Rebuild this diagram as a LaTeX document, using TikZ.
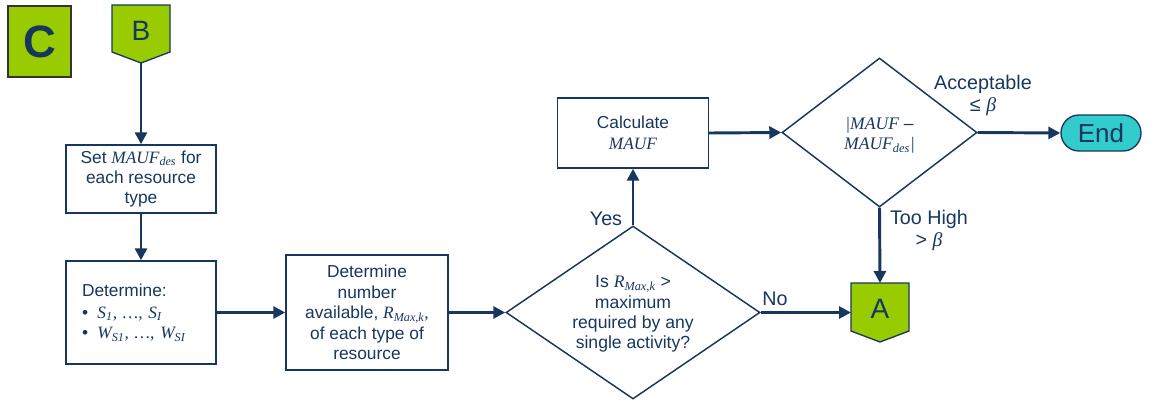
\documentclass[tikz,border=0pt]{standalone}
\usepackage{fontspec}
\setmainfont{Liberation Sans}
\newfontfamily\tms{Liberation Serif}
\usetikzlibrary{arrows.meta,shapes.geometric}
\definecolor{navy}{HTML}{17375E}
\definecolor{lime}{HTML}{99CC00}
\definecolor{endfill}{HTML}{33CCCC}
\newcommand{\vi}[1]{{\tms\itshape #1}}
\newcommand{\sbs}[1]{\textsubscript{\vi{#1}}}
\tikzset{
  box/.style={draw=navy, line width=1.1pt, text=navy, align=center, inner sep=0pt,
    font=\fontsize{13}{15.3}\selectfont},
  dia/.style={draw=navy, line width=1.1pt, shape=diamond, inner sep=0pt},
  dtext/.style={text=navy, align=center, font=\fontsize{13.2}{15.3}\selectfont},
  conn/.style={draw=navy, line width=2.2pt, -{Triangle[length=9pt,width=9pt]}},
  lbl/.style={text=navy, align=center, font=\fontsize{14.8}{16.5}\selectfont},
  greenshape/.style={fill=lime, draw=navy, line width=1pt},
  lettr/.style={text=navy, font=\fontsize{21}{21}\selectfont}
}
\begin{document}
\begin{tikzpicture}[x=0.75pt,y=-0.75pt]
\useasboundingbox (0,0) rectangle (1153,400);
% C square
\node[fill=lime, draw=black!80, line width=1pt, minimum width=47.25pt, minimum height=53.25pt,
  text=navy, font=\fontsize{34}{34}\selectfont\bfseries] (C) at (39.5,41.5) {C};
% B off-page connector
\path[greenshape] (112,5) -- (170,5) -- (170,52) -- (141,63) -- (112,52) -- cycle;
\node[lettr] (B) at (141,31) {B};
\coordinate (Btip) at (141,63);
% boxes
\node[box, minimum width=112.5pt, minimum height=51pt] (set) at (141,179)
  {Set \vi{MAUF}\sbs{des} for\\each resource\\type};
\node[box, minimum width=112.5pt, minimum height=77.25pt, align=left, text width=88.5pt] (det) at (141,312.5)
  {Determine:\\[1pt]
   •\hspace{7pt}\vi{S}\sbs{1}\vi{, \dots, S}\sbs{I}\\
   •\hspace{7pt}\vi{W}\sbs{S1}\vi{, \dots, W}\sbs{SI}};
\node[box, minimum width=121.5pt, minimum height=86.25pt] (num) at (367,312.5)
  {Determine\\number\\available, \vi{R}\sbs{Max,k}\vi{,}\\of each type of\\resource};
\node[box, minimum width=113.25pt, minimum height=52.5pt] (calc) at (633,133)
  {Calculate\\\vi{MAUF}};
% diamonds
\node[dia, minimum width=190.5pt, minimum height=129.75pt] (d1) at (633,312.5) {};
\node[dtext] (d1t) at (633,314) {Is \vi{R}\sbs{Max,k} >\\maximum\\required by any\\single activity?};
\node[dia, minimum width=146.25pt, minimum height=111.75pt] (d2) at (879.5,132.5) {};
\node[dtext] (d2t) at (879.5,135) {\vi{|MAUF} –\\\vi{MAUF}\sbs{des}\vi{|}};
% End
\node[draw=navy, line width=1pt, fill=endfill, rounded corners=13.5pt, minimum width=60pt,
  minimum height=27pt, text=navy, font=\fontsize{19.5}{19.5}\selectfont] (end) at (1101,133) {End};
% A off-page connector
\path[greenshape] (851,283) -- (909,283) -- (909,331) -- (880,342) -- (851,331) -- cycle;
\node[lettr] (A) at (880,309) {A};
\coordinate (Atop) at (880,283);
\coordinate (Aleft) at (851,312.5);
% connectors
\draw[conn] (Btip) -- (set.north);
\draw[conn] (set.south) -- (det.north);
\draw[conn] (det.east) -- (num.west);
\draw[conn] (num.east) -- (d1.west);
\draw[conn] (d1.north) -- (calc.south);
\draw[conn] (calc.east) -- (d2.west);
\draw[conn] (d2.east) -- (end.west);
\draw[conn] (d2.south) -- (Atop);
\draw[conn] (d1.east) -- (Aleft);
% labels
\node[lbl] (yes) at (606,219) {Yes};
\node[lbl] (no) at (775,299) {No};
\node[lbl] (acc) at (983,95) {Acceptable\\≤ \vi{β}};
\node[lbl] (high) at (929,230) {Too High\\> \vi{β}};
\end{tikzpicture}
\end{document}
